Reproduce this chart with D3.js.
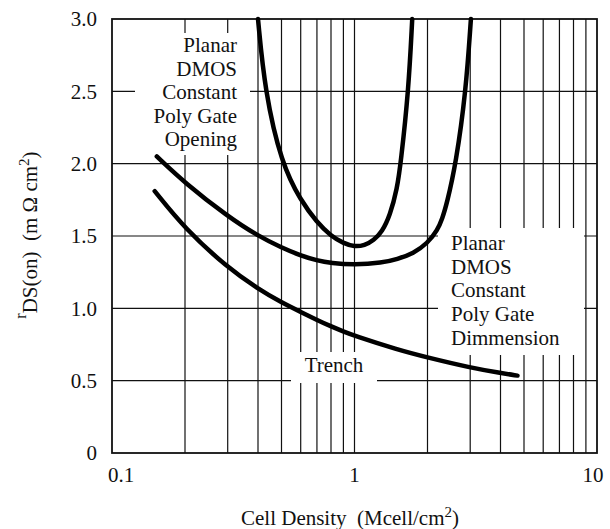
<!DOCTYPE html>
<html>
<head>
<meta charset="utf-8">
<script src="https://cdn.jsdelivr.net/npm/d3@7"></script>
<style>
  body { margin: 0; background: #fff; }
  svg { display: block; }
  svg text { font-family: 'Liberation Serif' !important; }
</style>
</head>
<body>
<svg id="plot" width="610" height="529"></svg>
<script>
// curve readings (x = Mcell/cm2, y = mOhm cm2)
const trenchX = [0.15, 0.2, 0.3, 0.4, 0.5, 0.6, 0.7, 0.8, 0.9, 1.0, 1.5, 2.0, 3.0, 4.0, 4.7];
const trenchY = [1.81, 1.55, 1.28, 1.135, 1.04, 0.975, 0.92, 0.875, 0.84, 0.81, 0.715, 0.66, 0.59, 0.553, 0.535];

const dimX = [0.153, 0.2, 0.3, 0.4, 0.5, 0.6, 0.7, 0.8, 1.0, 1.3, 1.5, 1.75, 2.0, 2.2, 2.3, 2.4, 2.62, 2.88, 3.02];
const dimY = [2.05, 1.866, 1.635, 1.50, 1.42, 1.365, 1.33, 1.312, 1.30, 1.315, 1.34, 1.38, 1.45, 1.54, 1.62, 1.72, 2.0, 2.5, 3.0];

const openX = [0.40, 0.427, 0.5, 0.6, 0.7, 0.8, 0.9, 1.0, 1.1, 1.2, 1.3, 1.4, 1.5, 1.55, 1.67, 1.73];
const openY = [3.0, 2.5, 2.0, 1.745, 1.595, 1.50, 1.45, 1.425, 1.435, 1.47, 1.53, 1.64, 1.83, 2.0, 2.5, 3.0];

const xTickLabels = [0.1, 1, 10];
const yTicks = [0, 0.5, 1.0, 1.5, 2.0, 2.5, 3.0];

const openLabel = ['Planar', 'DMOS', 'Constant', 'Poly Gate', 'Opening'];
const dimLabel = ['Planar', 'DMOS', 'Constant', 'Poly Gate', 'Dimmension'];
const trenchLabel = 'Trench';

const svg = d3.select('#plot');
const plotL = 112, plotR = 597, plotT = 19, plotB = 453;
const fs = 21;

let x = d3.scaleLog().domain([0.1, 10]).range([plotL, plotR]);
let y = d3.scaleLinear().domain([0, 3]).range([plotB, plotT]);

function addText(px, py) {
  return svg.append('text')
    .attr('x', px).attr('y', py)
    .attr('fill', '#111')
    .attr('font-size', fs)
    .attr('style', "font-family: 'Liberation Serif' !important");
}

// grid: every 1..9 x decade, plus every 0.5 in y
let xGrid = [];
[0.1, 1].forEach(d => { for (let k = 2; k <= 9; k++) xGrid.push(d * k); });
xGrid.push(1);

let grid = svg.append('g').attr('stroke', '#111').attr('stroke-width', 1.2);
xGrid.forEach(v => {
  grid.append('line')
    .attr('x1', x(v)).attr('x2', x(v))
    .attr('y1', plotT).attr('y2', plotB);
});
yTicks.filter(v => v > 0 && v < 3).forEach(v => {
  grid.append('line')
    .attr('x1', plotL).attr('x2', plotR)
    .attr('y1', y(v)).attr('y2', y(v));
});

// white boxes behind the labels hide the grid
let boxes = svg.append('g').attr('fill', '#fff');
boxes.append('rect').attr('x', 135).attr('y', 33).attr('width', 115).attr('height', 122);
boxes.append('rect').attr('x', 438).attr('y', 228).attr('width', 146).attr('height', 127);
boxes.append('rect').attr('x', 291).attr('y', 352).attr('width', 86).attr('height', 31);

// frame
svg.append('rect')
  .attr('x', plotL).attr('y', plotT)
  .attr('width', plotR - plotL).attr('height', plotB - plotT)
  .attr('fill', 'none').attr('stroke', '#111').attr('stroke-width', 1.8);

// curves
let line = d3.line()
  .x(d => x(d[0]))
  .y(d => y(d[1]))
  .curve(d3.curveBasis);

[[trenchX, trenchY], [dimX, dimY], [openX, openY]].forEach(([xs, ys]) => {
  svg.append('path')
    .attr('d', line(xs.map((v, i) => [v, ys[i]])))
    .attr('fill', 'none')
    .attr('stroke', '#000')
    .attr('stroke-width', 4.5)
    .attr('stroke-linecap', 'round');
});

// tick labels
yTicks.forEach(v => {
  addText(97, y(v)).attr('dy', '0.35em')
    .attr('text-anchor', 'end')
    .text(v === 0 ? '0' : v.toFixed(1));
});
xTickLabels.forEach(v => {
  addText(x(v) + (v === 0.1 ? 9 : v === 10 ? -4 : 0), 482)
    .attr('text-anchor', 'middle')
    .text(v);
});

// curve labels
openLabel.forEach((t, i) => {
  addText(237, 52 + i * 23.5).attr('text-anchor', 'end').text(t);
});
dimLabel.forEach((t, i) => {
  addText(451, 250 + i * 23.7).text(t);
});
addText(334, 372).attr('text-anchor', 'middle').text(trenchLabel);

// axis titles
let xt = addText(350, 525)
  .attr('text-anchor', 'middle')
  .attr('xml:space', 'preserve');
xt.append('tspan').text('Cell Density  (Mcell/cm');
xt.append('tspan').attr('dy', -8).attr('font-size', 15).text('2');
xt.append('tspan').attr('dy', 8).text(')');

let yt = addText(0, 0)
  .attr('transform', 'translate(37,235) rotate(-90)')
  .attr('text-anchor', 'middle')
  .attr('xml:space', 'preserve');
yt.append('tspan').attr('dy', -11).attr('font-size', 16).text('r');
yt.append('tspan').attr('dy', 11).text('DS(on)  (m Ω cm');
yt.append('tspan').attr('dy', -8).attr('font-size', 15).text('2');
yt.append('tspan').attr('dy', 8).text(')');
</script>
</body>
</html>
